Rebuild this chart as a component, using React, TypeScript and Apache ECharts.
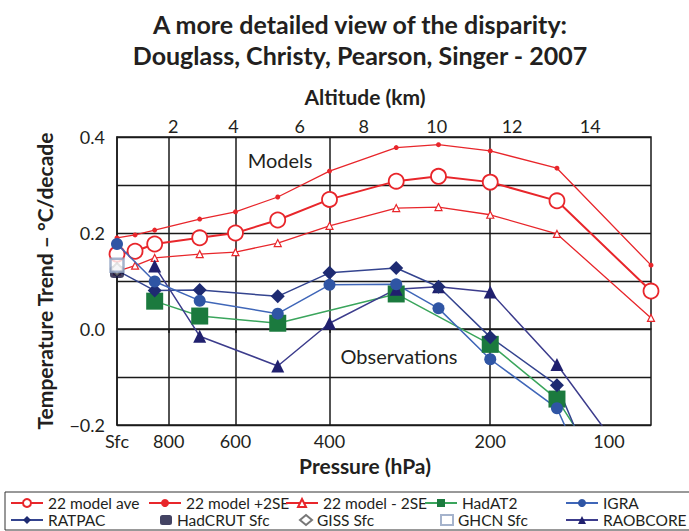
import React, { useEffect, useRef } from "react";
import * as echarts from "echarts";

// Pressure levels (hPa) shared by the model ensemble curves
const pressureLevels = [1000, 925, 850, 700, 600, 500, 400, 300, 250, 200, 150, 100];
const modelAve = [0.156, 0.162, 0.177, 0.19, 0.2, 0.227, 0.27, 0.308, 0.318, 0.306, 0.267, 0.079];
const modelPlus2SE = [0.19, 0.196, 0.206, 0.229, 0.244, 0.275, 0.329, 0.378, 0.384, 0.371, 0.335, 0.133];
const modelMinus2SE = [0.12, 0.132, 0.148, 0.156, 0.16, 0.179, 0.215, 0.252, 0.254, 0.238, 0.198, 0.023];

// Radiosonde observations
const hadat2Levels = [850, 700, 500, 300, 200, 150, 100];
const hadat2 = [0.058, 0.027, 0.012, 0.073, -0.032, -0.146, -0.45];

const igraLevels = [1000, 850, 700, 500, 400, 300, 250, 200, 150, 100];
const igra = [0.177, 0.099, 0.059, 0.032, 0.092, 0.093, 0.043, -0.063, -0.165, -0.6];

const ratpacLevels = [1000, 850, 700, 500, 400, 300, 250, 200, 150, 100];
const ratpac = [0.122, 0.08, 0.081, 0.068, 0.117, 0.127, 0.088, -0.017, -0.117, -0.58];

const raobcoreLevels = [850, 700, 500, 400, 300, 250, 200, 150, 100];
const raobcore = [0.131, -0.015, -0.077, 0.012, 0.083, 0.088, 0.077, -0.074, -0.34];

// Surface datasets
const hadcrutSfc = 0.119;
const gissSfc = 0.125;
const ghcnSfc = 0.133;

// Axis ticks and labels
const pressureGridLines = [800, 600, 400, 200];
const pressureLabels = [1000, 800, 600, 400, 200, 100];
const altitudeKm = [2, 4, 6, 8, 10, 12, 14];
const altitudeLabelPressure = [785, 605, 455, 345, 252, 182, 130];

const FONT = "Lato, 'Open Sans', sans-serif";
const INK = "#231f20";
const RED = "#e8262b";

// Horizontal position: log-pressure, surface (1000 hPa) at 0
const toX = (p: number) => Math.log(1000 / p);
const pairs = (levels: number[], values: number[]) => levels.map((p, i) => [toX(p), values[i]]);

export default function App() {
  const ref = useRef<HTMLDivElement>(null);

  useEffect(() => {
    if (!ref.current) return;
    const chart = echarts.init(ref.current, undefined, { renderer: "svg" });

    const altX = altitudeLabelPressure.map(toX);
    const obsLine = (name: string, levels: number[], values: number[], symbol: string, size: number, fill: string, stroke: string) => ({
      name,
      type: "line",
      data: pairs(levels, values),
      symbol,
      symbolSize: size,
      clip: true,
      itemStyle: { color: fill, borderColor: fill, borderWidth: 0 },
      lineStyle: { color: stroke, width: 1.5 },
      z: 3,
    });

    const legendItem = (name: string, left: number, top: number, w = 32, h = 10) => ({
      data: [name],
      left,
      top,
      padding: 0,
      itemWidth: w,
      itemHeight: h,
      textStyle: { fontFamily: FONT, fontSize: 15.5, color: INK },
      selectedMode: false,
    });
    const row1 = 495;
    const row2 = 512;

    chart.setOption({
      animation: false,
      title: {
        text: "A more detailed view of the disparity:\nDouglass, Christy, Pearson, Singer - 2007",
        left: 355,
        top: 3,
        textAlign: "center",
        textStyle: { fontFamily: FONT, fontSize: 25, fontWeight: "bold", color: INK, lineHeight: 31 },
      },
      grid: {
        left: 117,
        right: 38,
        top: 137,
        bottom: 106,
        show: true,
        borderColor: "#1a1a1a",
        borderWidth: 1.5,
      },
      xAxis: [
        {
          type: "value",
          min: 0,
          max: Math.log(10),
          name: "Pressure (hPa)",
          nameLocation: "middle",
          nameGap: 30,
          nameTextStyle: { fontFamily: FONT, fontSize: 21, fontWeight: "bold", color: INK, padding: [0, 38, 0, 0] },
          axisLine: { show: true, lineStyle: { color: "#1a1a1a", width: 1.5 } },
          axisTick: { show: true, customValues: pressureGridLines.map(toX), length: 4, lineStyle: { color: "#1a1a1a", width: 1.5 } },
          splitLine: { show: true, lineStyle: { color: "#1a1a1a", width: 1.5 } },
          axisLabel: {
            customValues: pressureLabels.map(toX),
            margin: 7,
            fontFamily: FONT,
            fontSize: 18,
            color: INK,
            formatter: (v: number) => {
              const p = Math.round(1000 / Math.exp(v));
              if (p === 1000) return "Sfc";
              if (p === 100) return "{edge|100}";
              return String(p);
            },
            rich: { edge: { fontFamily: FONT, fontSize: 18, color: INK, padding: [0, 84, 0, 0] } },
          },
        },
        {
          type: "value",
          position: "top",
          min: 0,
          max: Math.log(10),
          name: "Altitude (km)",
          nameLocation: "middle",
          nameGap: 30,
          nameTextStyle: { fontFamily: FONT, fontSize: 21, fontWeight: "bold", color: INK, padding: [0, 38, 0, 0] },
          axisLine: { show: false },
          axisTick: { show: false },
          splitLine: { show: false },
          axisLabel: {
            customValues: altX,
            margin: 2,
            fontFamily: FONT,
            fontSize: 18,
            color: INK,
            formatter: (v: number) => {
              const i = altX.findIndex((x) => Math.abs(x - v) < 1e-6);
              return i >= 0 ? String(altitudeKm[i]) : "";
            },
          },
        },
      ],
      yAxis: {
        type: "value",
        min: -0.2,
        max: 0.4,
        interval: 0.1,
        name: "Temperature Trend – °C/decade",
        nameLocation: "middle",
        nameGap: 62,
        nameTextStyle: { fontFamily: FONT, fontSize: 21, fontWeight: "bold", color: INK },
        axisLine: { show: true, lineStyle: { color: "#1a1a1a", width: 1.5 } },
        axisTick: { show: false },
        splitLine: { show: true, lineStyle: { color: "#1a1a1a", width: 1.3 } },
        axisLabel: {
          margin: 12,
          fontFamily: FONT,
          fontSize: 18,
          color: INK,
          formatter: (v: number) => {
            const k = Math.round(v * 10);
            if (k % 2 !== 0) return "";
            return (k / 10).toFixed(1).replace("-", "\u2212");
          },
        },
      },
      legend: [
        legendItem("22 model ave", 10, row1),
        legendItem("22 model +2SE", 148, row1),
        legendItem("22 model - 2SE", 285, row1),
        legendItem("HadAT2", 424, row1),
        legendItem("IGRA", 565, row1),
        legendItem("RATPAC", 10, row2),
        legendItem("HadCRUT Sfc", 160, row2, 12, 10),
        legendItem("GISS Sfc", 299, row2, 12, 10),
        legendItem("GHCN Sfc", 440, row2, 12, 10),
        legendItem("RAOBCORE", 565, row2),
      ],
      graphic: [
        {
          type: "rect",
          shape: { x: 5, y: 492, width: 700, height: 38 },
          style: { fill: "none", stroke: "#333", lineWidth: 1 },
          silent: true,
        },
        {
          type: "text",
          x: 280,
          y: 160,
          style: { text: "Models", fontFamily: FONT, fontSize: 20, fill: INK, textAlign: "center", textVerticalAlign: "middle" },
        },
        {
          type: "text",
          x: 399,
          y: 356,
          style: { text: "Observations", fontFamily: FONT, fontSize: 20, fill: INK, textAlign: "center", textVerticalAlign: "middle" },
        },
      ],
      series: [
        {
          name: "22 model +2SE",
          type: "line",
          data: pairs(pressureLevels, modelPlus2SE),
          symbol: "circle",
          symbolSize: 5,
          itemStyle: { color: RED },
          lineStyle: { color: RED, width: 1.3 },
          z: 2,
        },
        {
          name: "22 model - 2SE",
          type: "line",
          data: pairs(pressureLevels, modelMinus2SE),
          symbol: "triangle",
          symbolSize: 7,
          itemStyle: { color: "#fff", borderColor: RED, borderWidth: 1.2 },
          lineStyle: { color: RED, width: 1.3 },
          z: 2,
        },
        {
          name: "22 model ave",
          type: "line",
          data: pairs(pressureLevels, modelAve),
          symbol: "circle",
          symbolSize: 15,
          itemStyle: { color: "#fff", borderColor: RED, borderWidth: 1.8 },
          lineStyle: { color: RED, width: 2 },
          z: 2,
        },
        obsLine("HadAT2", hadat2Levels, hadat2, "rect", 17, "#1b7a3e", "#3aa55c"),
        obsLine("RAOBCORE", raobcoreLevels, raobcore, "triangle", 13, "#20206e", "#3c3c8c"),
        obsLine("RATPAC", ratpacLevels, ratpac, "diamond", 14, "#1e2b72", "#34448f"),
        obsLine("IGRA", igraLevels, igra, "circle", 12, "#2f55a4", "#3f66b8"),
        {
          name: "HadCRUT Sfc",
          type: "scatter",
          data: [[toX(1000), hadcrutSfc]],
          symbol: "roundRect",
          symbolSize: [14, 12],
          itemStyle: { color: "#14143c" },
          z: 4,
        },
        {
          name: "GISS Sfc",
          type: "scatter",
          data: [[toX(1000), gissSfc]],
          symbol: "diamond",
          symbolSize: 12,
          itemStyle: { color: "#fff", borderColor: "#555", borderWidth: 2 },
          z: 4,
        },
        {
          name: "GHCN Sfc",
          type: "scatter",
          data: [[toX(1000), ghcnSfc]],
          symbol: "rect",
          symbolSize: 13,
          itemStyle: { color: "#fff", borderColor: "#8fa0bf", borderWidth: 2.5 },
          z: 5,
        },
      ],
    });

    return () => chart.dispose();
  }, []);

  return <div ref={ref} style={{ position: "absolute", left: 0, top: 0, width: 689, height: 531 }} />;
}
